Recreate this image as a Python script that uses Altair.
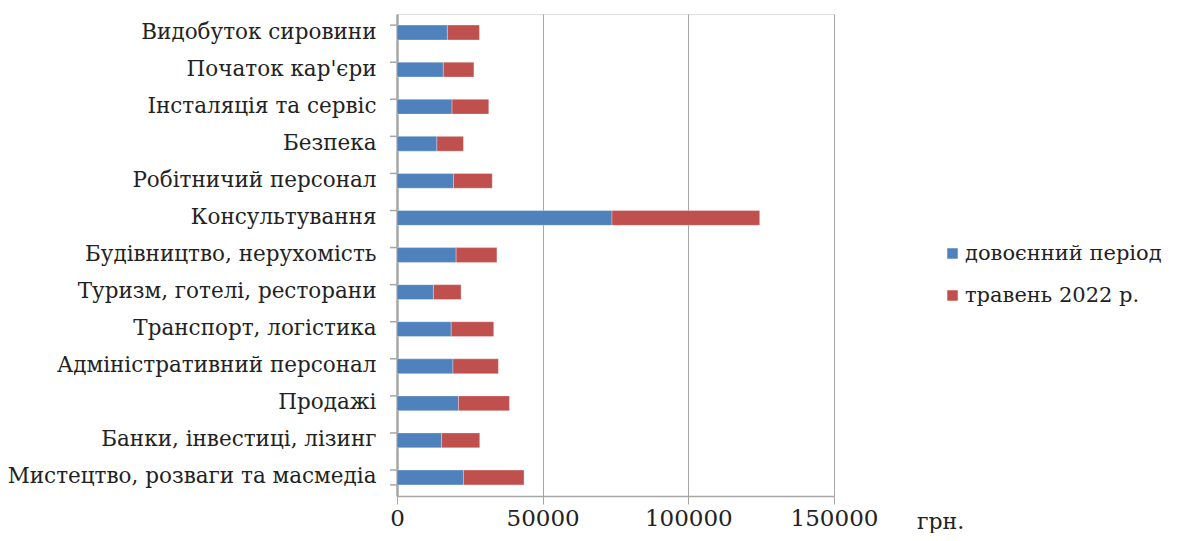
import altair as alt
import pandas as pd

categories = [
    "Видобуток сировини",
    "Початок кар'єри\u00a0",
    "Інсталяція та сервіс",
    "Безпека",
    "Робітничий персонал",
    "Консультування",
    "Будівництво, нерухомість",
    "Туризм, готелі, ресторани",
    "Транспорт, логістика",
    "Адміністративний персонал",
    "Продажі",
    "Банки, інвестиці, лізинг",
    "Мистецтво, розваги та масмедіа",
]
prewar = [17300, 15900, 18900, 13700, 19400, 73800, 20300, 12500, 18600, 19200, 21100, 15300, 22800]
may2022 = [11000, 10500, 12600, 9100, 13300, 50700, 14000, 9500, 14600, 15600, 17500, 13100, 20800]
series = ["довоєнний період", "травень 2022 р."]
colors = ["#4F81BD", "#C0504D"]
x_ticks = [0, 50000, 100000, 150000]

rows = []
for c, a, b in zip(categories, prewar, may2022):
    rows.append({"cat": c, "series": series[0], "value": a, "ord": 0})
    rows.append({"cat": c, "series": series[1], "value": b, "ord": 1})
df = pd.DataFrame(rows)

FONT = "DejaVu Serif"
TXT = "#222222"

bars = alt.Chart(df).mark_bar(stroke="white", strokeWidth=0.5, strokeOpacity=0.6).encode(
    x=alt.X(
        "value:Q",
        stack="zero",
        scale=alt.Scale(domain=[0, 150000], nice=False),
        axis=alt.Axis(
            values=x_ticks,
            format="d",
            title="грн.",
            titleX=543,
            titleY=25,
            titleAlign="center",
            titleBaseline="middle",
            titleFont=FONT,
            titleFontSize=22,
            titleFontWeight="normal",
            titleColor=TXT,
            labelFont=FONT,
            labelFontSize=23,
            labelColor=TXT,
            labelPadding=3,
            labelFlush=False,
            tickSize=8,
            tickColor="#a6a6a6",
            domainColor="#a6a6a6",
            domainWidth=1.5,
            grid=True,
            gridColor="#a6a6a6",
            gridWidth=1,
        ),
    ),
    y=alt.Y(
        "cat:N",
        sort=categories,
        scale=alt.Scale(paddingInner=0.6, paddingOuter=0.3),
        axis=alt.Axis(
            title=None,
            ticks=False,
            labelFont=FONT,
            labelFontSize=21.5,
            labelColor=TXT,
            labelPadding=21,
            domainColor="#a6a6a6",
            domainWidth=2.5,
            grid=False,
            labelLimit=500,
        ),
    ),
    color=alt.Color(
        "series:N",
        sort=series,
        scale=alt.Scale(domain=series, range=colors),
        legend=alt.Legend(
            title=None,
            orient="none",
            legendX=545,
            legendY=229,
            symbolType="square",
            symbolSize=110,
            symbolStrokeWidth=0,
            labelFont=FONT,
            labelFontSize=21,
            labelColor=TXT,
            labelOffset=2,
            rowPadding=20,
            labelLimit=400,
        ),
    ),
    order=alt.Order("ord:Q"),
)

tick_df = pd.DataFrame({"cat": categories})
yticks = alt.Chart(tick_df).mark_rule(color="#a6a6a6", strokeWidth=1.5).encode(
    x=alt.value(-7),
    x2=alt.value(0),
    y=alt.Y("cat:N", sort=categories, bandPosition=0),
)
ybottom = alt.Chart(pd.DataFrame({"cat": [categories[-1]]})).mark_rule(color="#a6a6a6", strokeWidth=1.5).encode(
    x=alt.value(-7),
    x2=alt.value(0),
    y=alt.Y("cat:N", sort=categories, bandPosition=1),
)

chart = (
    alt.layer(bars, yticks, ybottom)
    .properties(
        width=437,
        height=482,
        autosize=alt.AutoSizeParams(type="none"),
        padding={"left": 389, "top": 6, "right": 339, "bottom": 37},
    )
    .configure_view(stroke=None)
    .configure(background="white")
)

chart.save("out.html", embed_options={"renderer": "svg", "actions": False})
